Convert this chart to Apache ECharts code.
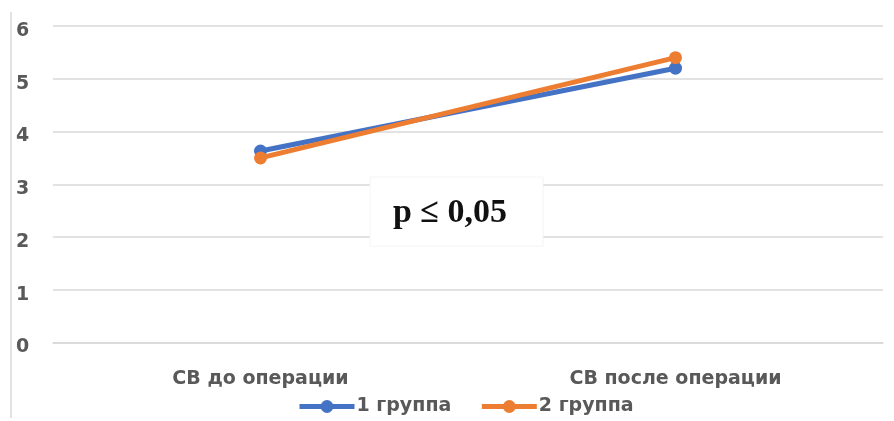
<!DOCTYPE html>
<html>
<head>
<meta charset="utf-8">
<script src="https://cdn.jsdelivr.net/npm/echarts@6/dist/echarts.min.js"></script>
<style>
  html, body { margin: 0; padding: 0; background: #ffffff; }
  #chart { width: 894px; height: 421px; }
</style>
</head>
<body>
<div id="chart"></div>
<script>
// Categories and values for the two groups
const categories = ['СВ до операции', 'СВ после операции'];
const group1 = [3.63, 5.2];
const group2 = [3.5, 5.4];
const seriesNames = ['1 группа', '2 группа'];
const yTicks = { min: 0, max: 6, interval: 1 };
const noteText = 'p \u2264 0,05';

const labelFont = { color: '#595959', fontFamily: 'DejaVu Sans', fontWeight: 'bold', fontSize: 19 };

const chart = echarts.init(document.getElementById('chart'), null, { renderer: 'canvas' });

chart.setOption({
  animation: false,
  backgroundColor: '#ffffff',
  grid: { left: 53, right: 11, top: 26, bottom: 78.5, containLabel: false },
  legend: {
    left: 292,
    top: 392,
    itemWidth: 55,
    itemHeight: 16,
    itemGap: 28,
    lineStyle: { width: 5 },
    textStyle: Object.assign({}, labelFont, { padding: [0, 0, 0, -3] }),
    data: seriesNames
  },
  xAxis: {
    type: 'category',
    data: categories,
    boundaryGap: true,
    axisLine: { show: true, lineStyle: { color: '#d9d9d9', width: 1.5 } },
    axisTick: { show: false },
    axisLabel: Object.assign({}, labelFont, { margin: 27 })
  },
  yAxis: {
    type: 'value',
    min: yTicks.min,
    max: yTicks.max,
    interval: yTicks.interval,
    axisLine: { show: false },
    axisTick: { show: false },
    splitLine: { lineStyle: { color: '#d9d9d9', width: 1.5 } },
    axisLabel: Object.assign({}, labelFont, { align: 'left', verticalAlign: 'top', lineHeight: 10, margin: 37 })
  },
  series: [
    {
      name: seriesNames[0],
      type: 'line',
      data: group1,
      symbol: 'circle',
      symbolSize: 13,
      lineStyle: { width: 5, color: '#4472C4' },
      itemStyle: { color: '#4472C4' },
      z: 2
    },
    {
      name: seriesNames[1],
      type: 'line',
      data: group2,
      symbol: 'circle',
      symbolSize: 13,
      lineStyle: { width: 5, color: '#ED7D31' },
      itemStyle: { color: '#ED7D31' },
      z: 3
    }
  ],
  graphic: [
    {
      type: 'line',
      shape: { x1: 11, y1: 12, x2: 11, y2: 418 },
      style: { stroke: '#d9d9d9', lineWidth: 1.5 }
    },
    {
      type: 'rect',
      shape: { x: 370, y: 177, width: 173, height: 69 },
      style: { fill: '#ffffff', stroke: '#f4f4f4', lineWidth: 1 },
      z: 10
    },
    {
      type: 'text',
      x: 450,
      y: 213,
      style: {
        text: noteText,
        fontFamily: 'Liberation Serif',
        fontWeight: 'bold',
        fontSize: 34,
        fill: '#111111',
        align: 'center',
        verticalAlign: 'middle'
      },
      z: 11
    }
  ]
});
</script>
</body>
</html>
